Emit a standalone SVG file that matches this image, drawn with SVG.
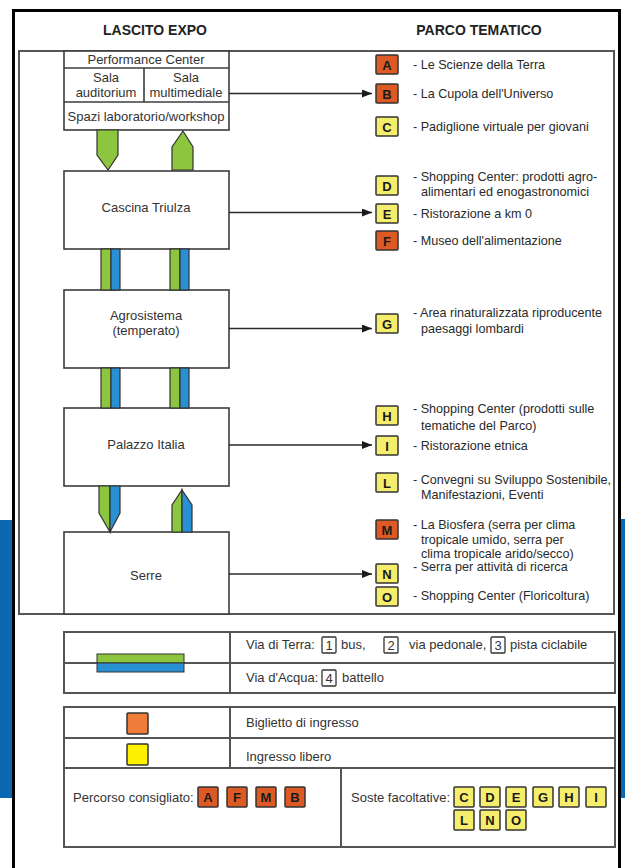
<svg xmlns="http://www.w3.org/2000/svg" width="625" height="868" viewBox="0 0 625 868">
<style>
text{font-family:"Liberation Sans",Arial,sans-serif;fill:#333}
.box{fill:#fff;stroke:#3c3c3c;stroke-width:1.6}
.frame{fill:none;stroke:#555;stroke-width:2}
.lbl{font-size:13px;text-anchor:middle}
.desc{font-size:12.6px;fill:#2a2a2a}
.lt{font-size:13px;font-weight:bold;text-anchor:middle;fill:#1a1a1a}
.or{fill:#dd5a24;stroke:#333;stroke-width:1.5}
.ye{fill:#f5ee6c;stroke:#333;stroke-width:1.5}
.g{fill:#8cc63e;stroke:#333;stroke-width:1.2}
.b{fill:#2a90d4;stroke:#333;stroke-width:1.2}
.conn{stroke:#2a2a2a;stroke-width:1.6;fill:none;marker-end:url(#ah)}
.nb{fill:#fff;stroke:#333;stroke-width:1.3}
.leg{font-size:13px}
.head{font-size:14px;font-weight:bold;text-anchor:middle;fill:#222}
</style>
<defs>
<marker id="ah" markerUnits="userSpaceOnUse" markerWidth="10" markerHeight="8" refX="10" refY="4" orient="auto">
<path d="M0,0 L10,4 L0,8 z" fill="#1a1a1a"/>
</marker>
</defs>
<rect width="625" height="868" fill="#fff"/>
<rect x="0" y="520" width="13" height="278" fill="#0a67b0"/>
<rect x="621" y="519" width="4" height="279" fill="#0a67b0"/>
<path d="M13.5,868 V10.5 H619.5 V868" fill="none" stroke="#000" stroke-width="3"/>

<text class="head" x="155" y="35">LASCITO EXPO</text>
<text class="head" x="479" y="35">PARCO TEMATICO</text>

<rect class="frame" x="19" y="51" width="595" height="563"/>

<g id="performance-center">
<rect class="box" x="64" y="51" width="165" height="79"/>
<line x1="64" y1="68" x2="229" y2="68" stroke="#3c3c3c" stroke-width="1.6"/>
<line x1="64" y1="102" x2="229" y2="102" stroke="#3c3c3c" stroke-width="1.6"/>
<line x1="144" y1="68" x2="144" y2="102" stroke="#3c3c3c" stroke-width="1.6"/>
<text class="lbl" x="146" y="64">Performance Center</text>
<text class="lbl" x="106" y="82">Sala</text>
<text class="lbl" x="106" y="97">auditorium</text>
<text class="lbl" x="186" y="82">Sala</text>
<text class="lbl" x="186" y="97">multimediale</text>
<text class="lbl" x="146" y="121">Spazi laboratorio/workshop</text>
</g>

<g id="cascina-triulza">
<rect class="box" x="64" y="171" width="165" height="78"/>
<text class="lbl" x="146" y="212">Cascina Triulza</text>
</g>

<g id="agrosistema">
<rect class="box" x="64" y="290" width="165" height="78"/>
<text class="lbl" x="146" y="320">Agrosistema</text>
<text class="lbl" x="146" y="335">(temperato)</text>
</g>

<g id="palazzo-italia">
<rect class="box" x="64" y="408" width="165" height="78"/>
<text class="lbl" x="146" y="449">Palazzo Italia</text>
</g>

<g id="serre">
<rect class="box" x="64" y="532" width="165" height="82"/>
<text class="lbl" x="146" y="580">Serre</text>
</g>

<g id="connectors">
<polygon class="g" points="97,130 118,130 118,155 108,170 97,155"/>
<polygon class="g" points="172,170 193,170 193,147 183,131 172,147"/>
<rect class="g" x="101" y="249" width="10" height="41"/>
<rect class="b" x="111" y="249" width="9" height="41"/>
<rect class="g" x="170" y="249" width="10" height="41"/>
<rect class="b" x="180" y="249" width="9" height="41"/>
<rect class="g" x="101" y="368" width="10" height="40"/>
<rect class="b" x="111" y="368" width="9" height="40"/>
<rect class="g" x="170" y="368" width="10" height="40"/>
<rect class="b" x="180" y="368" width="9" height="40"/>
<polygon class="g" points="99,486 110,486 110,532 99,513"/>
<polygon class="b" points="110,486 120,486 120,513 110,532"/>
<polygon class="g" points="172,532 182,532 182,490 172,505"/>
<polygon class="b" points="182,532 192,532 192,505 182,490"/>
<line class="conn" x1="229" y1="93.5" x2="372" y2="93.5"/>
<line class="conn" x1="229" y1="212.5" x2="372" y2="212.5"/>
<line class="conn" x1="229" y1="328.5" x2="372" y2="328.5"/>
<line class="conn" x1="229" y1="445" x2="372" y2="445"/>
<line class="conn" x1="229" y1="574" x2="372" y2="574"/>
</g>

<g id="item-A"><rect class="or" x="376" y="55" width="22" height="19" rx="1"/><text class="lt" x="387" y="69.5">A</text><text class="desc" x="413" y="68.5">- Le Scienze della Terra</text></g>
<g id="item-B"><rect class="or" x="376" y="84" width="22" height="19" rx="1"/><text class="lt" x="387" y="98.5">B</text><text class="desc" x="413" y="98">- La Cupola dell'Universo</text></g>
<g id="item-C"><rect class="ye" x="376" y="117" width="22" height="19" rx="1"/><text class="lt" x="387" y="131.5">C</text><text class="desc" x="413" y="131">- Padiglione virtuale per giovani</text></g>
<g id="item-D"><rect class="ye" x="376" y="176" width="22" height="19" rx="1"/><text class="lt" x="387" y="190.5">D</text><text class="desc" x="413" y="181">- Shopping Center: prodotti agro-</text><text class="desc" x="421" y="196">alimentari ed enogastronomici</text></g>
<g id="item-E"><rect class="ye" x="376" y="204" width="22" height="19" rx="1"/><text class="lt" x="387" y="218.5">E</text><text class="desc" x="413" y="217.5">- Ristorazione a km 0</text></g>
<g id="item-F"><rect class="or" x="376" y="231" width="22" height="19" rx="1"/><text class="lt" x="387" y="245.5">F</text><text class="desc" x="413" y="244.5">- Museo dell'alimentazione</text></g>
<g id="item-G"><rect class="ye" x="376" y="314" width="22" height="19" rx="1"/><text class="lt" x="387" y="328.5">G</text><text class="desc" x="413" y="317">- Area rinaturalizzata riproducente</text><text class="desc" x="421" y="333">paesaggi lombardi</text></g>
<g id="item-H"><rect class="ye" x="376" y="406" width="22" height="19" rx="1"/><text class="lt" x="387" y="420.5">H</text><text class="desc" x="413" y="413">- Shopping Center (prodotti sulle</text><text class="desc" x="421" y="430">tematiche del Parco)</text></g>
<g id="item-I"><rect class="ye" x="376" y="436" width="22" height="19" rx="1"/><text class="lt" x="387" y="450.5">I</text><text class="desc" x="413" y="450">- Ristorazione etnica</text></g>
<g id="item-L"><rect class="ye" x="376" y="473" width="22" height="19" rx="1"/><text class="lt" x="387" y="487.5">L</text><text class="desc" x="413" y="484">- Convegni su Sviluppo Sostenibile,</text><text class="desc" x="421" y="499">Manifestazioni, Eventi</text></g>
<g id="item-M"><rect class="or" x="376" y="520" width="22" height="19" rx="1"/><text class="lt" x="387" y="534.5">M</text><text class="desc" x="413" y="529">- La Biosfera (serra per clima</text><text class="desc" x="421" y="544">tropicale umido, serra per</text><text class="desc" x="421" y="558">clima tropicale arido/secco)</text></g>
<g id="item-N"><rect class="ye" x="376" y="564" width="22" height="19" rx="1"/><text class="lt" x="387" y="578.5">N</text><text class="desc" x="413" y="571">- Serra per attività di ricerca</text></g>
<g id="item-O"><rect class="ye" x="376" y="587" width="22" height="19" rx="1"/><text class="lt" x="387" y="601.5">O</text><text class="desc" x="413" y="600">- Shopping Center (Floricoltura)</text></g>

<g id="legend-routes">
<rect class="frame" x="64" y="632" width="551" height="61"/>
<line x1="64" y1="663" x2="615" y2="663" stroke="#555" stroke-width="2"/>
<line x1="230" y1="632" x2="230" y2="693" stroke="#555" stroke-width="2"/>
<rect x="97" y="654" width="87" height="9" fill="#8cc63e" stroke="#333" stroke-width="1"/>
<rect x="97" y="663" width="87" height="9" fill="#2a90d4" stroke="#333" stroke-width="1"/>
<text class="leg" x="246" y="649">Via di Terra:</text>
<rect class="nb" x="322" y="637" width="14" height="16" rx="1"/><text class="leg" x="329" y="650" text-anchor="middle">1</text>
<text class="leg" x="341" y="649">bus,</text>
<rect class="nb" x="384" y="637" width="14" height="16" rx="1"/><text class="leg" x="391" y="650" text-anchor="middle">2</text>
<text class="leg" x="409" y="649">via pedonale,</text>
<rect class="nb" x="491" y="637" width="14" height="16" rx="1"/><text class="leg" x="498" y="650" text-anchor="middle">3</text>
<text class="leg" x="510" y="649">pista ciclabile</text>
<text class="leg" x="246" y="682">Via d'Acqua:</text>
<rect class="nb" x="322" y="670" width="14" height="16" rx="1"/><text class="leg" x="329" y="683" text-anchor="middle">4</text>
<text class="leg" x="342" y="682">battello</text>
</g>

<g id="legend-access">
<rect class="frame" x="64" y="707" width="551" height="140"/>
<line x1="64" y1="738" x2="615" y2="738" stroke="#555" stroke-width="2"/>
<line x1="64" y1="768" x2="615" y2="768" stroke="#555" stroke-width="2"/>
<line x1="230" y1="707" x2="230" y2="768" stroke="#555" stroke-width="2"/>
<line x1="341" y1="768" x2="341" y2="847" stroke="#555" stroke-width="2"/>
<rect x="127" y="713" width="21" height="21" rx="1" fill="#f07c3a" stroke="#333" stroke-width="1.5"/>
<rect x="127" y="744" width="21" height="21" rx="1" fill="#fff100" stroke="#333" stroke-width="1.5"/>
<text class="leg" x="246" y="727">Biglietto di ingresso</text>
<text class="leg" x="246" y="761">Ingresso libero</text>
<text class="leg" x="73" y="802">Percorso consigliato:</text>
<rect class="or" x="198" y="787" width="20" height="20" rx="1"/><text class="lt" x="208" y="802">A</text>
<rect class="or" x="227" y="787" width="20" height="20" rx="1"/><text class="lt" x="237" y="802">F</text>
<rect class="or" x="256" y="787" width="20" height="20" rx="1"/><text class="lt" x="266" y="802">M</text>
<rect class="or" x="285" y="787" width="20" height="20" rx="1"/><text class="lt" x="295" y="802">B</text>
<text class="leg" x="351" y="802">Soste facoltative:</text>
<rect class="ye" x="454" y="787" width="20" height="20" rx="1"/><text class="lt" x="464" y="802">C</text>
<rect class="ye" x="480" y="787" width="20" height="20" rx="1"/><text class="lt" x="490" y="802">D</text>
<rect class="ye" x="506" y="787" width="20" height="20" rx="1"/><text class="lt" x="516" y="802">E</text>
<rect class="ye" x="533" y="787" width="20" height="20" rx="1"/><text class="lt" x="543" y="802">G</text>
<rect class="ye" x="559" y="787" width="20" height="20" rx="1"/><text class="lt" x="569" y="802">H</text>
<rect class="ye" x="586" y="787" width="20" height="20" rx="1"/><text class="lt" x="596" y="802">I</text>
<rect class="ye" x="454" y="810" width="20" height="20" rx="1"/><text class="lt" x="464" y="825">L</text>
<rect class="ye" x="480" y="810" width="20" height="20" rx="1"/><text class="lt" x="490" y="825">N</text>
<rect class="ye" x="506" y="810" width="20" height="20" rx="1"/><text class="lt" x="516" y="825">O</text>
</g>
</svg>
